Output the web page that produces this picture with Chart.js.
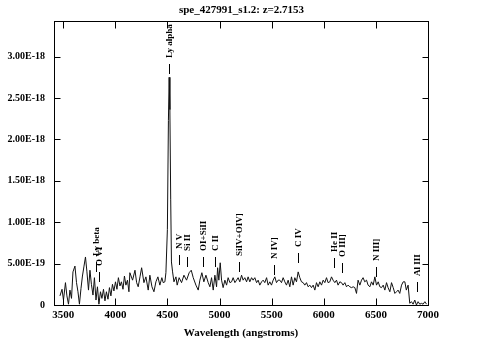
<!DOCTYPE html>
<html><head><meta charset="utf-8">
<script src="https://cdn.jsdelivr.net/npm/chart.js@4/dist/chart.umd.min.js"></script>
<style>html,body{margin:0;padding:0;background:#fff;}canvas{display:block}</style>
</head><body>
<canvas id="c" width="483" height="358"></canvas>
<script>
// Wavelength (angstroms) and flux (units of 1E-19)
const wavelengths = [3468,3488,3502,3521,3535,3550,3564,3579,3593,3612,3627,3641,3655,3670,3684,3699,3713,3727,3742,3756,3770,3785,3799,3814,3828,3842,3857,3871,3886,3900,3914,3929,3943,3957,3972,3986,4001,4015,4029,4044,4058,4073,4087,4101,4116,4130,4139,4165,4188,4204,4219,4236,4252,4274,4293,4315,4331,4351,4370,4389,4408,4427,4446,4459,4475,4485,4499,4509,4516,4523,4531,4538,4549,4562,4581,4593,4612,4635,4658,4683,4708,4728,4747,4773,4795,4811,4830,4849,4869,4891,4907,4923,4939,4955,4971,4981,4993,5006,5019,5034,5051,5067,5082,5099,5115,5130,5147,5163,5178,5194,5211,5226,5242,5259,5274,5290,5307,5322,5338,5355,5370,5386,5403,5418,5434,5451,5466,5482,5498,5514,5530,5546,5562,5578,5594,5610,5626,5642,5658,5674,5690,5706,5722,5738,5754,5770,5786,5802,5818,5834,5850,5866,5882,5898,5914,5930,5946,5962,5978,5994,6010,6026,6041,6058,6074,6089,6106,6122,6137,6154,6170,6185,6202,6218,6233,6250,6266,6282,6298,6314,6329,6346,6362,6377,6393,6410,6425,6442,6458,6474,6490,6506,6522,6538,6554,6570,6586,6602,6617,6634,6650,6666,6682,6698,6713,6729,6746,6762,6778,6792,6809,6825,6841,6857,6873,6889,6905,6921,6937,6953,6970,6986];
const flux = [1.1,1.9,0.6,2.7,1.1,0.1,1.8,0.8,4.0,4.7,2.7,1.6,0.1,2.0,3.5,4.7,5.8,4.0,1.8,4.2,2.5,1.2,3.3,0.6,2.2,0.1,1.6,0.8,1.9,0.5,1.6,0.7,2.1,1.1,2.5,1.7,2.8,1.9,3.3,2.3,2.8,1.9,3.5,2.4,3.0,1.6,3.9,3.0,4.2,2.7,2.2,3.4,4.5,2.7,3.4,1.8,3.6,2.2,1.6,2.8,3.4,2.4,3.3,2.7,2.8,3.9,9.1,22.3,27.5,23.6,12.7,5.2,4.0,2.8,3.4,2.4,3.3,2.7,3.6,3.0,3.9,4.2,3.3,2.4,1.8,3.0,3.9,2.8,3.6,2.7,2.2,3.3,1.8,3.6,2.2,4.5,3.0,5.1,3.0,2.1,3.0,2.4,3.3,2.7,2.8,3.3,2.7,3.0,3.3,2.8,3.6,3.0,3.3,2.8,3.4,2.8,3.3,3.0,3.3,2.7,3.0,2.4,2.8,3.0,2.7,3.3,2.4,2.8,2.4,3.0,3.4,2.7,3.0,3.0,2.7,3.3,2.8,2.4,3.0,2.2,3.4,2.4,3.3,2.8,4.0,3.3,2.8,2.7,2.4,2.7,2.2,2.4,2.1,2.4,1.8,2.7,2.2,2.8,2.4,3.0,2.7,3.3,2.7,2.8,3.4,3.0,2.7,3.0,2.4,2.8,2.7,2.4,2.7,2.2,2.4,2.2,2.1,2.2,2.1,1.4,3.0,2.4,3.0,3.3,2.8,3.0,2.4,2.2,2.8,2.4,3.4,2.4,2.8,2.2,2.1,2.4,1.8,2.7,2.1,1.6,2.7,2.1,1.4,1.6,1.8,1.4,2.4,2.8,2.8,1.8,2.4,0.2,0.4,0.1,0.6,0,0.4,0.1,0.2,0.1,0.4,0.1];
const xTicks = [3500,4000,4500,5000,5500,6000,6500,7000];
const yTicks = [0,5,10,15,20,25,30];
// Emission-line markers: name, observed wavelength, flux level of marker foot
const lineNames  = ['Ly beta','O VI','Ly alpha','N V','Si II','OI+SiII','C II','SiIV+OIV]','N IV]','C IV','He II','O III]','N III]','Al III'];
const lineWaves  = [3811,3841,4517,4607,4683,4845,4958,5190,5523,5755,6095,6179,6502,6899];
const lineLevels = [4.0,2.8,27.9,4.8,4.6,4.6,4.6,4.0,3.6,5.1,4.5,3.9,3.4,1.6];

const FONT = '"Liberation Serif", "DejaVu Serif", serif';

const framePlugin = {
  id: 'frame',
  afterDatasetsDraw(chart) {
    const {ctx, chartArea: a, scales: {x, y}} = chart;
    ctx.save();
    ctx.strokeStyle = '#000'; ctx.lineWidth = 1;
    const L = Math.round(a.left) + 0.5, R = Math.round(a.right) + 0.5;
    const T = Math.round(a.top) + 0.5, B = Math.round(a.bottom) + 0.5;
    ctx.strokeRect(L, T, R - L, B - T);
    ctx.beginPath();
    xTicks.forEach(v => {
      const px = Math.round(x.getPixelForValue(v)) + 0.5;
      ctx.moveTo(px, B); ctx.lineTo(px, B - 7);
      ctx.moveTo(px, T); ctx.lineTo(px, T + 7);
    });
    yTicks.forEach(v => {
      const py = Math.round(y.getPixelForValue(v)) + 0.5;
      ctx.moveTo(L, py); ctx.lineTo(L + 6, py);
      ctx.moveTo(R, py); ctx.lineTo(R - 6, py);
    });
    ctx.stroke();
    ctx.fillStyle = '#000';
    ctx.font = 'bold 9px ' + FONT;
    ctx.textBaseline = 'middle'; ctx.textAlign = 'left';
    lineNames.forEach((n, i) => {
      const px = Math.round(x.getPixelForValue(lineWaves[i])) + 0.5;
      const py = Math.round(y.getPixelForValue(lineLevels[i]));
      ctx.beginPath(); ctx.moveTo(px, py); ctx.lineTo(px, py - 10); ctx.stroke();
      ctx.save(); ctx.translate(px, py - 16); ctx.rotate(-Math.PI / 2);
      ctx.fillText(n, 0, 0); ctx.restore();
    });
    ctx.restore();
  }
};

new Chart(document.getElementById('c'), {
  type: 'line',
  data: {
    datasets: [{
      data: wavelengths.map((w, i) => ({x: w, y: flux[i]})),
      borderColor: '#111', borderWidth: 1, pointRadius: 0, tension: 0, fill: false
    }]
  },
  options: {
    responsive: false, maintainAspectRatio: false, animation: false,
    layout: {padding: 0},
    plugins: {
      legend: {display: false}, tooltip: {enabled: false},
      title: {display: true, text: 'spe_427991_s1.2: z=2.7153', color: '#000',
        font: {family: FONT, size: 11, weight: 'bold'}, padding: {top: 4, bottom: 3.8}}
    },
    scales: {
      x: {
        type: 'linear', min: 3411, max: 7000,
        grid: {display: false, drawTicks: false}, border: {display: false},
        afterBuildTicks: s => { s.ticks = xTicks.map(v => ({value: v})); },
        ticks: {padding: 4, color: '#000', maxRotation: 0, autoSkip: false,
          font: {family: FONT, size: 11, weight: 'bold'}, callback: v => String(v)},
        title: {display: true, text: 'Wavelength (angstroms)', color: '#000',
          font: {family: FONT, size: 11, weight: 'bold'}, padding: {top: 4, bottom: 18}},
        afterFit: s => { s.height = 53; }
      },
      y: {
        min: 0, max: 34.3,
        grid: {display: false, drawTicks: false}, border: {display: false},
        afterBuildTicks: s => { s.ticks = yTicks.map(v => ({value: v})); },
        ticks: {padding: 9, color: '#000', font: {family: FONT, size: 10, weight: 'bold'},
          callback: v => v === 0 ? '0' : (v * 1e-19).toExponential(2).toUpperCase()},
        afterFit: s => { s.width = 54; }
      },
      yRight: {
        position: 'right', min: 0, max: 1,
        grid: {display: false, drawTicks: false}, border: {display: false},
        ticks: {display: false},
        afterFit: s => { s.width = 55; }
      }
    }
  },
  plugins: [framePlugin]
});
</script>
</body></html>
